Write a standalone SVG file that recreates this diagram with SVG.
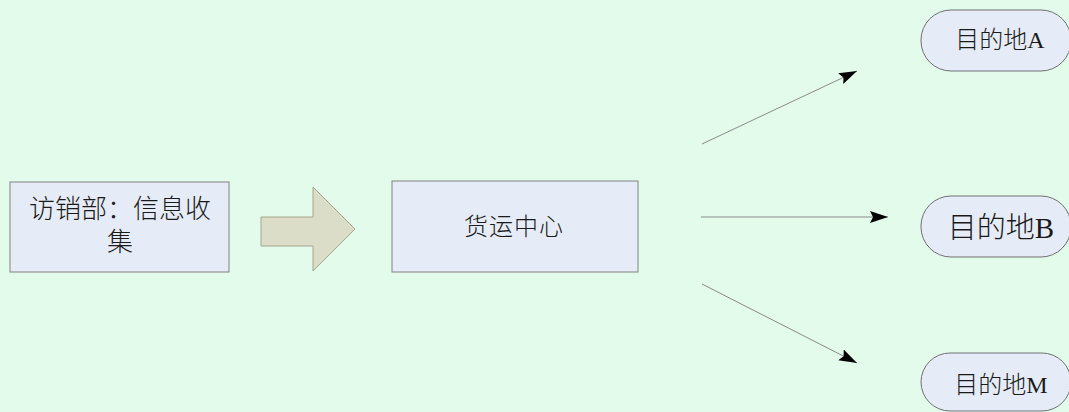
<svg xmlns="http://www.w3.org/2000/svg" width="1069" height="412" viewBox="0 0 1069 412">
<style>
.box{fill:#E6ECF7;stroke:#808080;stroke-width:1}
.term{fill:#E6ECF7;stroke:#707070;stroke-width:1}
.t{font-family:"Liberation Serif","Noto Sans CJK SC",serif;fill:#1a1a1a;text-anchor:middle;font-weight:300}
.conn{stroke:#8a8a8a;stroke-width:1;fill:none;marker-end:url(#ah)}
</style>
<defs>
<marker id="ah" markerUnits="userSpaceOnUse" markerWidth="20" markerHeight="14" refX="18" refY="6" orient="auto">
<path d="M0,0 L18,6 L0,12 L3,6 Z" fill="#000"/>
</marker>
</defs>
<rect width="1069" height="412" fill="#E2FBEA"/>
<g id="node-info">
<rect class="box" x="10" y="182" width="219" height="90"/>
<text class="t" x="120" y="218" font-size="26">访销部：信息收</text>
<text class="t" x="120" y="251" font-size="26">集</text>
</g>
<g id="block-arrow">
<polygon points="261,217 313,217 313,187 355,229 313,271 313,246 261,246" fill="#DCDDC8" stroke="#A5A58F" stroke-width="1"/>
</g>
<g id="node-center">
<rect class="box" x="392" y="181" width="246" height="91"/>
<text class="t" x="514" y="235" font-size="24" letter-spacing="1">货运中心</text>
</g>
<g id="node-A">
<rect class="term" x="921" y="10" width="150" height="61" rx="30" ry="30"/>
<text class="t" x="1000" y="48" font-size="24">目的地A</text>
</g>
<g id="node-B">
<rect class="term" x="921" y="196" width="150" height="61" rx="30" ry="30"/>
<text class="t" x="1001" y="238" font-size="29">目的地B</text>
</g>
<g id="node-M">
<rect class="term" x="921" y="353" width="150" height="58" rx="29" ry="29"/>
<text class="t" x="1001" y="393" font-size="24">目的地M</text>
</g>
<g id="connectors">
<line class="conn" x1="702" y1="144" x2="857" y2="71"/>
<line class="conn" x1="701" y1="217" x2="888" y2="217"/>
<line class="conn" x1="702" y1="284" x2="857" y2="363"/>
</g>
</svg>
